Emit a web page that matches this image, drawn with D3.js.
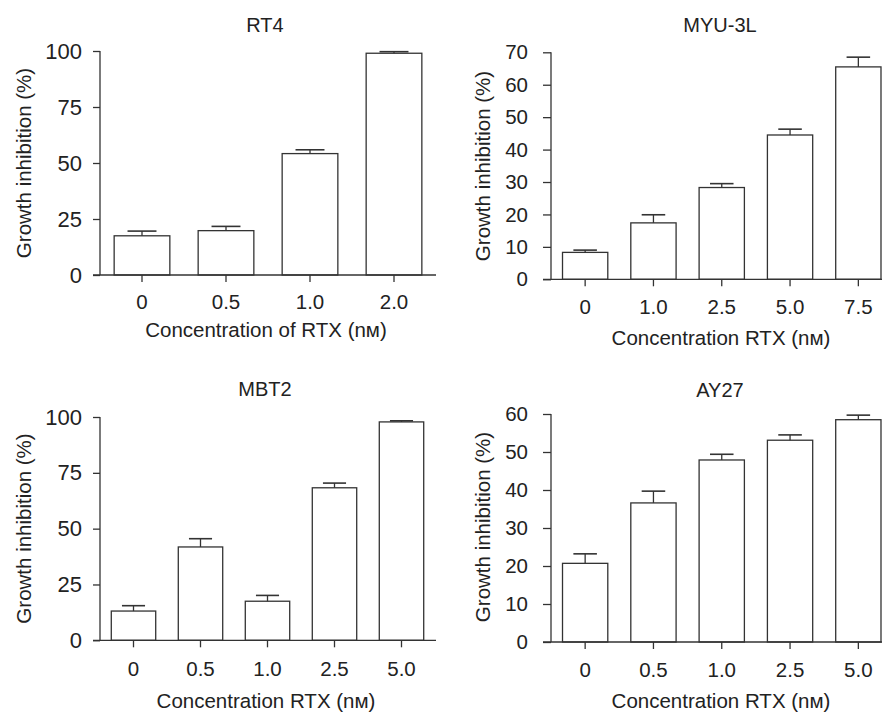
<!DOCTYPE html>
<html><head><meta charset="utf-8">
<script src="https://cdn.jsdelivr.net/npm/d3@7"></script>
<style>
body{margin:0;background:#fff;}
text{font-family:"Liberation Sans",Arial,Helvetica,sans-serif;fill:#222;}
</style></head>
<body><svg id="c" width="882" height="712"></svg>
<script>
// ---- data ----
const rt4Cats = ["0","0.5","1.0","2.0"];
const rt4Vals = [17.5, 19.8, 54.2, 99.0];
const rt4Err  = [2.1, 1.9, 1.7, 0.7];
const rt4Ticks = [0,25,50,75,100];

const myuCats = ["0","1.0","2.5","5.0","7.5"];
const myuVals = [8.3, 17.4, 28.3, 44.5, 65.5];
const myuErr  = [0.7, 2.5, 1.2, 1.8, 3.0];
const myuTicks = [0,10,20,30,40,50,60,70];

const mbtCats = ["0","0.5","1.0","2.5","5.0"];
const mbtVals = [13.1, 41.8, 17.5, 68.3, 97.8];
const mbtErr  = [2.4, 3.7, 2.6, 2.1, 0.5];
const mbtTicks = [0,25,50,75,100];

const ayCats = ["0","0.5","1.0","2.5","5.0"];
const ayVals = [20.7, 36.6, 47.9, 53.1, 58.5];
const ayErr  = [2.5, 3.1, 1.5, 1.4, 1.2];
const ayTicks = [0,10,20,30,40,50,60];

const titles = ["RT4","MYU-3L","MBT2","AY27"];
const xTitles = ["Concentration of RTX (nм)","Concentration RTX (nм)","Concentration RTX (nм)","Concentration RTX (nм)"];
const yTitle = "Growth inhibition (%)";

// ---- layout ----
const panels = [
  {cats:rt4Cats, vals:rt4Vals, err:rt4Err, ticks:rt4Ticks, max:100,
   x0:100, x1:436, yb:275, yt:51, axL:93, axR:436, titleX:265, titleY:32, tickY:309, xtY:337, xtX:266, ylX:31, ylY:163, labEnd:82, yFs:22, yTk:7},
  {cats:myuCats, vals:myuVals, err:myuErr, ticks:myuTicks, max:70,
   x0:551, x1:892.5, yb:279.3, yt:52.3, axL:543, axR:890, titleX:720, titleY:32, tickY:314, xtY:345, xtX:721, ylX:490, ylY:166, labEnd:528, yFs:20.5, yTk:8},
  {cats:mbtCats, vals:mbtVals, err:mbtErr, ticks:mbtTicks, max:100,
   x0:100, x1:435, yb:640.3, yt:417, axL:93, axR:436, titleX:265, titleY:396, tickY:676, xtY:708, xtX:266, ylX:31, ylY:528.5, labEnd:82, yFs:22, yTk:7},
  {cats:ayCats, vals:ayVals, err:ayErr, ticks:ayTicks, max:60,
   x0:551, x1:892.5, yb:642, yt:414, axL:543, axR:890, titleX:720, titleY:397, tickY:677, xtY:708, xtX:721, ylX:490, ylY:527, labEnd:528, yFs:20.5, yTk:8}
];

const svg = d3.select("#c");
const stroke = "#333", sw = 1.3;

panels.forEach((p,i)=>{
  const g = svg.append("g");
  const x = d3.scaleBand().domain(p.cats).range([p.x0,p.x1]).paddingInner(0.337).paddingOuter(0.1685);
  const y = d3.scaleLinear().domain([0,p.max]).range([p.yb,p.yt]);

  // title
  g.append("text").attr("x",p.titleX).attr("y",p.titleY).attr("text-anchor","middle")
    .attr("font-size",20).text(titles[i]);

  // y axis
  const ya = g.append("g").attr("transform",`translate(${p.x0},0)`)
    .call(d3.axisLeft(y).tickValues(p.ticks).tickSize(p.yTk).tickPadding(p.x0-p.yTk-p.labEnd).tickSizeOuter(0));
  ya.select(".domain").remove();
  ya.append("line").attr("x1",0).attr("x2",0).attr("y1",y(p.max)).attr("y2",y(0)).attr("stroke",stroke).attr("stroke-width",sw);
  ya.selectAll(".tick line").attr("stroke",stroke).attr("stroke-width",sw);
  ya.selectAll(".tick text").attr("font-size",p.yFs).attr("fill","#222")
    .attr("font-family","'Liberation Sans',Arial,sans-serif");

  // bars
  g.selectAll("rect.bar").data(p.vals).join("rect")
    .attr("x",(d,j)=>x(p.cats[j])).attr("width",x.bandwidth())
    .attr("y",d=>y(d)).attr("height",d=>y(0)-y(d))
    .attr("fill","#fff").attr("stroke",stroke).attr("stroke-width",sw);

  // error bars (upper only)
  const capW = x.bandwidth()*0.52;
  p.vals.forEach((v,j)=>{
    const cx = x(p.cats[j]) + x.bandwidth()/2;
    g.append("line").attr("x1",cx).attr("x2",cx).attr("y1",y(v)).attr("y2",y(v+p.err[j]))
      .attr("stroke",stroke).attr("stroke-width",sw);
    g.append("line").attr("x1",cx-capW/2).attr("x2",cx+capW/2).attr("y1",y(v+p.err[j])).attr("y2",y(v+p.err[j]))
      .attr("stroke",stroke).attr("stroke-width",sw+0.3);
  });

  // x axis
  const xa = g.append("g").attr("transform",`translate(0,${p.yb})`)
    .call(d3.axisBottom(x).tickSize(7).tickPadding(p.tickY-p.yb-7-15).tickSizeOuter(0));
  xa.select(".domain").remove();
  xa.append("line").attr("x1",p.axL).attr("x2",p.axR).attr("y1",0).attr("y2",0).attr("stroke",stroke).attr("stroke-width",sw);
  xa.selectAll(".tick line").attr("stroke",stroke).attr("stroke-width",sw);
  xa.selectAll(".tick text").attr("font-size",20.5).attr("fill","#222")
    .attr("font-family","'Liberation Sans',Arial,sans-serif");

  // x title
  g.append("text").attr("x",p.xtX).attr("y",p.xtY).attr("text-anchor","middle")
    .attr("font-size",20.5).text(xTitles[i]);

  // y title
  g.append("text").attr("transform",`translate(${p.ylX},${p.ylY}) rotate(-90)`)
    .attr("text-anchor","middle").attr("font-size",20.5).text(yTitle);
});
</script></body></html>
